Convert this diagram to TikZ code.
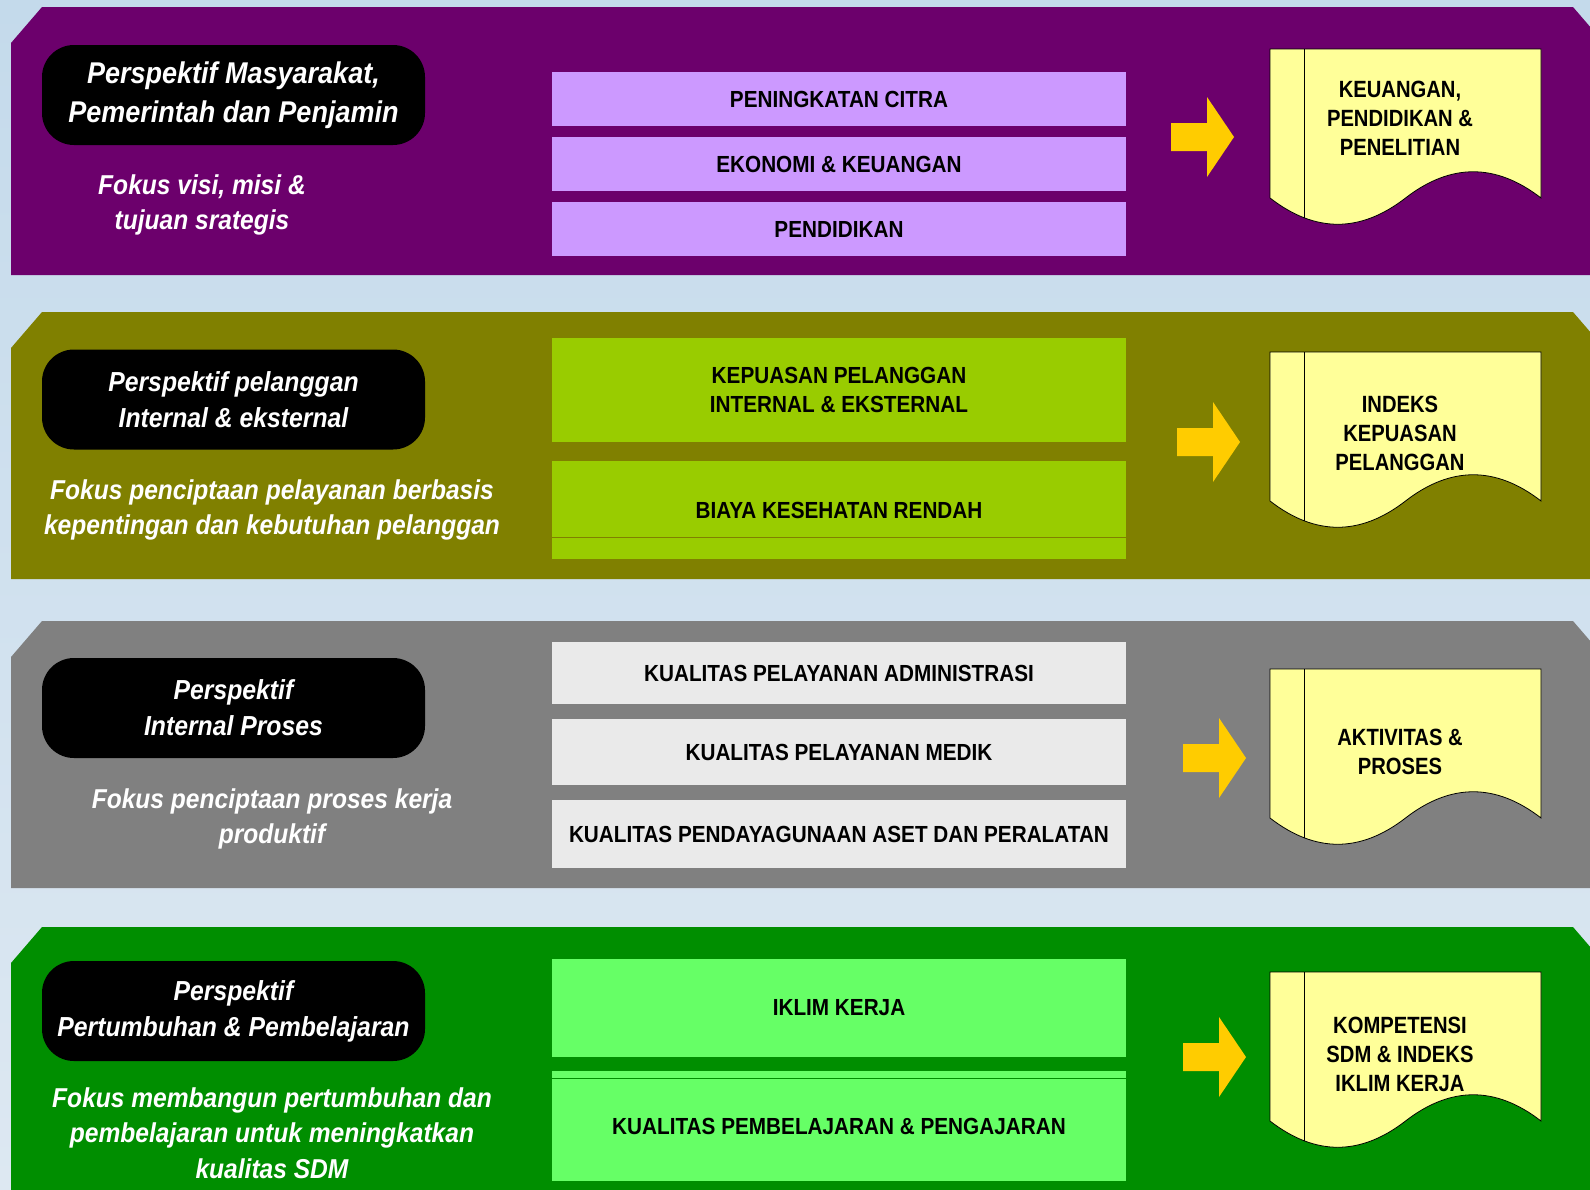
\documentclass[tikz,border=0pt]{standalone}
\usepackage{fontspec}
\setmainfont{Liberation Sans}
\newfontfamily\slantfont[FakeStretch=0.9]{Liberation Sans}
\newfontfamily\narrowfont[FakeStretch=0.86]{Liberation Sans}
\newfontfamily\goalfont[FakeStretch=0.89]{Liberation Sans}
\usepackage{xcolor}

\definecolor{plumbg}{RGB}{108,0,108}
\definecolor{lilacbox}{RGB}{204,153,255}
\definecolor{olivebg}{RGB}{128,128,0}
\definecolor{limebox}{RGB}{153,204,0}
\definecolor{greybg}{RGB}{128,128,128}
\definecolor{greybox}{RGB}{234,234,234}
\definecolor{greenbg}{RGB}{0,142,0}
\definecolor{mintbox}{RGB}{102,255,102}
\definecolor{paper}{RGB}{255,255,153}
\definecolor{amber}{RGB}{255,204,0}
\definecolor{skytop}{RGB}{196,218,235}
\definecolor{skybot}{RGB}{221,232,242}

\newcommand{\docsheet}[2]{%
    \begin{scope}[shift={(#1,#2)}]
        \draw[sheet] (0,0) -- (271,0) -- (271,149)
            .. controls (225.8,114) and (180.7,114) .. (135.5,149)
            .. controls (90.3,184) and (45.2,184) .. (0,149) -- cycle;
        \draw[sheet] (34,0) -- (34,168.7);
    \end{scope}}
\newcommand{\bigarrow}[2]{%
    \fill[amber] (#1,#2) ++(0,-14) -- ++(36,0) -- ++(0,-26) -- ++(27,40)
        -- ++(-27,40) -- ++(0,-26) -- ++(-36,0) -- cycle;}

\begin{document}
\begin{tikzpicture}[x=1pt,y=-1pt,
    persp/.style={fill=black,rounded corners=32pt,minimum width=383pt,minimum height=100pt,
        inner sep=0pt,text=white,align=center,font=\slantfont\bfseries\itshape\fontsize{27.5}{36}\selectfont},
    focus/.style={text=white,align=center,inner sep=0pt,
        font=\slantfont\bfseries\itshape\fontsize{27.3}{35.5}\selectfont},
    goal/.style={minimum width=574pt,inner sep=0pt,align=center,
        font=\goalfont\bfseries\fontsize{23.3}{29}\selectfont},
    result/.style={align=center,inner sep=0pt,font=\narrowfont\bfseries\fontsize{23.5}{29}\selectfont},
    sheet/.style={fill=paper,draw=black,line width=0.8pt}]

    \useasboundingbox (0,0) rectangle (1590,1189);
    \clip (0,0) rectangle (1590,1189);
    \shade[top color=skytop,bottom color=skybot] (0,0) rectangle (1590,1189);

    \fill[plumbg] (11,43) -- (42,7) -- (1573,7) -- (1604,43) -- (1604,275) -- (11,275) -- cycle;
    \fill[olivebg] (11,348) -- (42,312) -- (1573,312) -- (1604,348) -- (1604,579) -- (11,579) -- cycle;
    \fill[greybg] (11,657) -- (42,621) -- (1573,621) -- (1604,657) -- (1604,888) -- (11,888) -- cycle;
    \fill[greenbg] (11,963) -- (42,927) -- (1573,927) -- (1604,963) -- (1604,1200) -- (11,1200) -- cycle;

    \node[persp,font=\slantfont\bfseries\itshape\fontsize{30}{38.5}\selectfont] (persp1) at (233.5,95)
        {Perspektif Masyarakat,\\Pemerintah dan Penjamin};
    \node[persp] (persp2) at (233.5,399.5) {Perspektif pelanggan\\Internal \& eksternal};
    \node[persp] (persp3) at (233.5,708) {Perspektif\\Internal Proses};
    \node[persp] (persp4) at (233.5,1011) {Perspektif\\Pertumbuhan \& Pembelajaran};

    \node[focus] (focus1) at (202,205) {Fokus visi, misi \&\\tujuan srategis};
    \node[focus] (focus2) at (272,510) {Fokus penciptaan pelayanan berbasis\\kepentingan dan kebutuhan pelanggan};
    \node[focus] (focus3) at (272,819) {Fokus penciptaan proses kerja\\produktif};
    \node[focus] (focus4) at (272,1133) {Fokus membangun pertumbuhan dan\\pembelajaran untuk meningkatkan\\kualitas SDM};

    \node[goal,fill=lilacbox,minimum height=54pt] (g11) at (839,99) {PENINGKATAN CITRA};
    \node[goal,fill=lilacbox,minimum height=54pt] (g12) at (839,164) {EKONOMI \& KEUANGAN};
    \node[goal,fill=lilacbox,minimum height=54pt] (g13) at (839,229) {PENDIDIKAN};

    \node[goal,fill=limebox,minimum height=104pt] (g21) at (839,390) {KEPUASAN PELANGGAN\\INTERNAL \& EKSTERNAL};
    \node[goal,fill=limebox,minimum height=98pt] (g22) at (839,510) {BIAYA KESEHATAN RENDAH};
    \coordinate (cut2) at (0,537);
    \draw[olivebg,line width=0.8pt] (g22.west |- cut2) -- (g22.east |- cut2);

    \node[goal,fill=greybox,minimum height=62pt] (g31) at (839,673) {KUALITAS PELAYANAN ADMINISTRASI};
    \node[goal,fill=greybox,minimum height=66pt] (g32) at (839,752) {KUALITAS PELAYANAN MEDIK};
    \node[goal,fill=greybox,minimum height=68pt] (g33) at (839,834) {KUALITAS PENDAYAGUNAAN ASET DAN PERALATAN};

    \node[goal,fill=mintbox,minimum height=98pt] (g41) at (839,1008) {IKLIM KERJA};
    \node[goal,fill=mintbox,minimum height=110pt] (g42) at (839,1126) {KUALITAS PEMBELAJARAN \& PENGAJARAN};
    \coordinate (cut4) at (0,1078);
    \draw[greenbg,line width=0.8pt] (g42.west |- cut4) -- (g42.east |- cut4);

    \bigarrow{1171}{137}
    \bigarrow{1177}{442}
    \bigarrow{1183}{758}
    \bigarrow{1183}{1057}

    \docsheet{1270}{49}
    \docsheet{1270}{352}
    \docsheet{1270}{669}
    \docsheet{1270}{972}

    \node[result] (doc1) at (1400,118) {KEUANGAN,\\PENDIDIKAN \&\\PENELITIAN};
    \node[result] (doc2) at (1400,433) {INDEKS\\KEPUASAN\\PELANGGAN};
    \node[result] (doc3) at (1400,752) {AKTIVITAS \&\\PROSES};
    \node[result] (doc4) at (1400,1054) {KOMPETENSI\\SDM \& INDEKS\\IKLIM KERJA};
\end{tikzpicture}
\end{document}
